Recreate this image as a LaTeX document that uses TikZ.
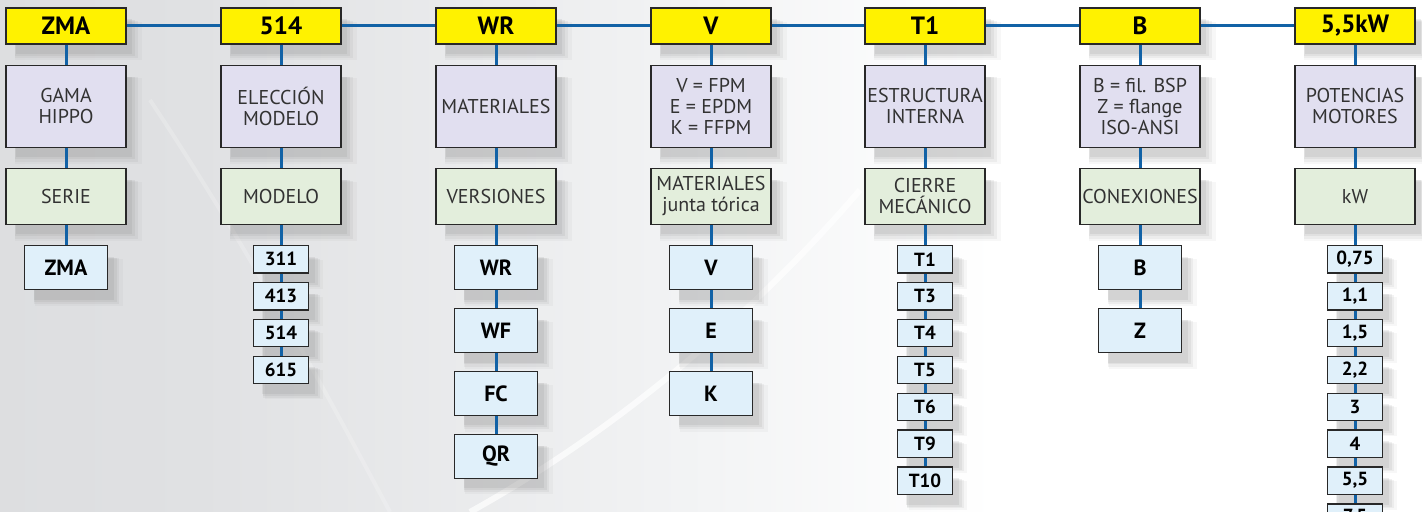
\documentclass[tikz,border=0pt]{standalone}
\usepackage{fontspec}
\setmainfont{PT Sans}
\usepackage{tikz}
\usetikzlibrary{positioning, shadows}

\definecolor{linkblue}{RGB}{18,98,166}
\definecolor{boxline}{RGB}{40,40,40}
\definecolor{codeyellow}{RGB}{255,242,0}
\definecolor{infofill}{RGB}{225,223,240}
\definecolor{groupfill}{RGB}{227,238,220}
\definecolor{optfill}{RGB}{224,240,250}
\definecolor{labelgray}{RGB}{50,50,50}
\definecolor{bgdark}{RGB}{210,212,214}
\definecolor{bgmid}{RGB}{224,225,227}
\definecolor{bglight}{RGB}{243,244,245}
\pgfdeclarehorizontalshading{backdrop}{100bp}{color(0bp)=(bgdark); color(32bp)=(bgmid);
  color(50bp)=(bglight); color(60bp)=(white); color(100bp)=(white)}

\begin{document}
\begin{tikzpicture}[x=0.5pt, y=-0.5pt,
        node distance=10pt,
        every node/.style={font=\fontsize{10}{10.5}\selectfont},
        shadebox/.style={
          drop shadow={shadow xshift=6pt, shadow yshift=-7pt, shadow scale=1.06, opacity=.06},
          drop shadow={shadow xshift=5pt, shadow yshift=-6.5pt, shadow scale=1.03, opacity=.09},
          drop shadow={shadow xshift=4.5pt, shadow yshift=-6pt, opacity=.11},
          drop shadow={shadow xshift=4pt, shadow yshift=-5.5pt, shadow scale=0.97, opacity=.13}},
        codebox/.style={shadebox, draw=boxline, line width=0.6pt, fill=codeyellow,
                        minimum width=60pt, minimum height=18pt, inner sep=0pt,
                        font=\bfseries\fontsize{12.5}{14}\selectfont},
        infobox/.style={shadebox, draw=boxline, line width=0.6pt, fill=infofill, text=labelgray,
                        align=center, minimum width=60pt, minimum height=41pt, inner sep=0.5pt},
        groupbox/.style={infobox, fill=groupfill, minimum height=28pt},
        optbox/.style={shadebox, draw=boxline, line width=0.6pt, fill=optfill,
                       minimum width=41.5pt, minimum height=22pt, inner sep=0pt,
                       font=\bfseries\fontsize{11}{12}\selectfont},
        optnarrow/.style={optbox, minimum width=27.5pt, minimum height=13.75pt,
                          font=\bfseries\fontsize{9.5}{11}\selectfont},
        link/.style={draw=linkblue, line width=1.5pt}]

      % backdrop
      \useasboundingbox (0,0) rectangle (1422,512);
      \clip (0,0) rectangle (1422,512);
      \shade[shading=backdrop] (0,0) rectangle (1422,512);
      \draw[white, opacity=0.2, line width=2pt] (150,100) .. controls (250,250) and (330,400) .. (390,512);
      \draw[white, opacity=0.7, line width=3pt] (470,512) .. controls (600,440) and (740,330) .. (860,190);

      % code row
      \node[codebox] (serie)   at (66,26)   {ZMA};
      \node[codebox] (modelo)  at (281,26)  {514};
      \node[codebox] (version) at (496,26)  {WR};
      \node[codebox] (junta)   at (711,26)  {V};
      \node[codebox] (cierre)  at (925,26)  {T1};
      \node[codebox] (conex)   at (1140,26) {B};
      \node[codebox] (motor)   at (1355,26) {5,5kW};

      % descriptions
      \node[infobox, below=of serie]   (gama)       {GAMA\\HIPPO};
      \node[infobox, below=of modelo]  (eleccion)   {ELECCIÓN\\MODELO};
      \node[infobox, below=of version] (materiales) {MATERIALES};
      \node[infobox, below=of junta]   (mjunta)     {V = FPM\\E = EPDM\\K = FFPM};
      \node[infobox, below=of cierre]  (estructura) {ESTRUCTURA\\INTERNA};
      \node[infobox, below=of conex]   (tipos)      {B = fil. BSP\\Z = flange\\ISO-ANSI};
      \node[infobox, below=of motor]   (potencias)  {POTENCIAS\\MOTORES};

      \node[groupbox, below=of gama]       (gserie)   {SERIE};
      \node[groupbox, below=of eleccion]   (gmodelo)  {MODELO};
      \node[groupbox, below=of materiales] (gversion) {VERSIONES};
      \node[groupbox, below=of mjunta]     (gjunta)   {MATERIALES\\junta tórica};
      \node[groupbox, below=of estructura] (gcierre)  {CIERRE\\MECÁNICO};
      \node[groupbox, below=of tipos]      (gconex)   {CONEXIONES};
      \node[groupbox, below=of potencias]  (gkw)      {kW};

      % options
      \node[optbox, below=of gserie] (zma) {ZMA};

      \node[optnarrow, below=of gmodelo]  (m311) {311};
      \node[optnarrow, below=4.1pt of m311] (m413) {413};
      \node[optnarrow, below=4.1pt of m413] (m514) {514};
      \node[optnarrow, below=4.1pt of m514] (m615) {615};

      \node[optbox, below=of gversion]  (wr) {WR};
      \node[optbox, below=8.85pt of wr] (wf) {WF};
      \node[optbox, below=8.85pt of wf] (fc) {FC};
      \node[optbox, below=8.85pt of fc] (qr) {QR};

      \node[optbox, below=of gjunta]  (v) {V};
      \node[optbox, below=8.85pt of v] (e) {E};
      \node[optbox, below=8.85pt of e] (k) {K};

      \node[optnarrow, below=of gcierre]  (t1)  {T1};
      \node[optnarrow, below=4.1pt of t1] (t3)  {T3};
      \node[optnarrow, below=4.1pt of t3] (t4)  {T4};
      \node[optnarrow, below=4.1pt of t4] (t5)  {T5};
      \node[optnarrow, below=4.1pt of t5] (t6)  {T6};
      \node[optnarrow, below=4.1pt of t6] (t9)  {T9};
      \node[optnarrow, below=4.1pt of t9] (t10) {T10};

      \node[optbox, below=of gconex]  (b) {B};
      \node[optbox, below=8.85pt of b] (z) {Z};

      \node[optnarrow, below=of gkw]       (p075) {0,75};
      \node[optnarrow, below=4.1pt of p075] (p11)  {1,1};
      \node[optnarrow, below=4.1pt of p11]  (p15)  {1,5};
      \node[optnarrow, below=4.1pt of p15]  (p22)  {2,2};
      \node[optnarrow, below=4.1pt of p22]  (p3)   {3};
      \node[optnarrow, below=4.1pt of p3]   (p4)   {4};
      \node[optnarrow, below=4.1pt of p4]   (p55)  {5,5};
      \node[optnarrow, below=4.1pt of p55]  (p75)  {7,5};

      % connectors
      \draw[link] (serie) -- (modelo) -- (version) -- (junta) -- (cierre) -- (conex) -- (motor);
      \draw[link] (serie) -- (gama) -- (gserie) -- (zma);
      \draw[link] (modelo) -- (eleccion) -- (gmodelo) -- (m311) -- (m413) -- (m514) -- (m615);
      \draw[link] (version) -- (materiales) -- (gversion) -- (wr) -- (wf) -- (fc) -- (qr);
      \draw[link] (junta) -- (mjunta) -- (gjunta) -- (v) -- (e) -- (k);
      \draw[link] (cierre) -- (estructura) -- (gcierre) -- (t1) -- (t3) -- (t4) -- (t5) -- (t6) -- (t9) -- (t10);
      \draw[link] (conex) -- (tipos) -- (gconex) -- (b) -- (z);
      \draw[link] (motor) -- (potencias) -- (gkw) -- (p075) -- (p11) -- (p15) -- (p22) -- (p3) -- (p4) -- (p55) -- (p75);
    \end{tikzpicture}
\end{document}
